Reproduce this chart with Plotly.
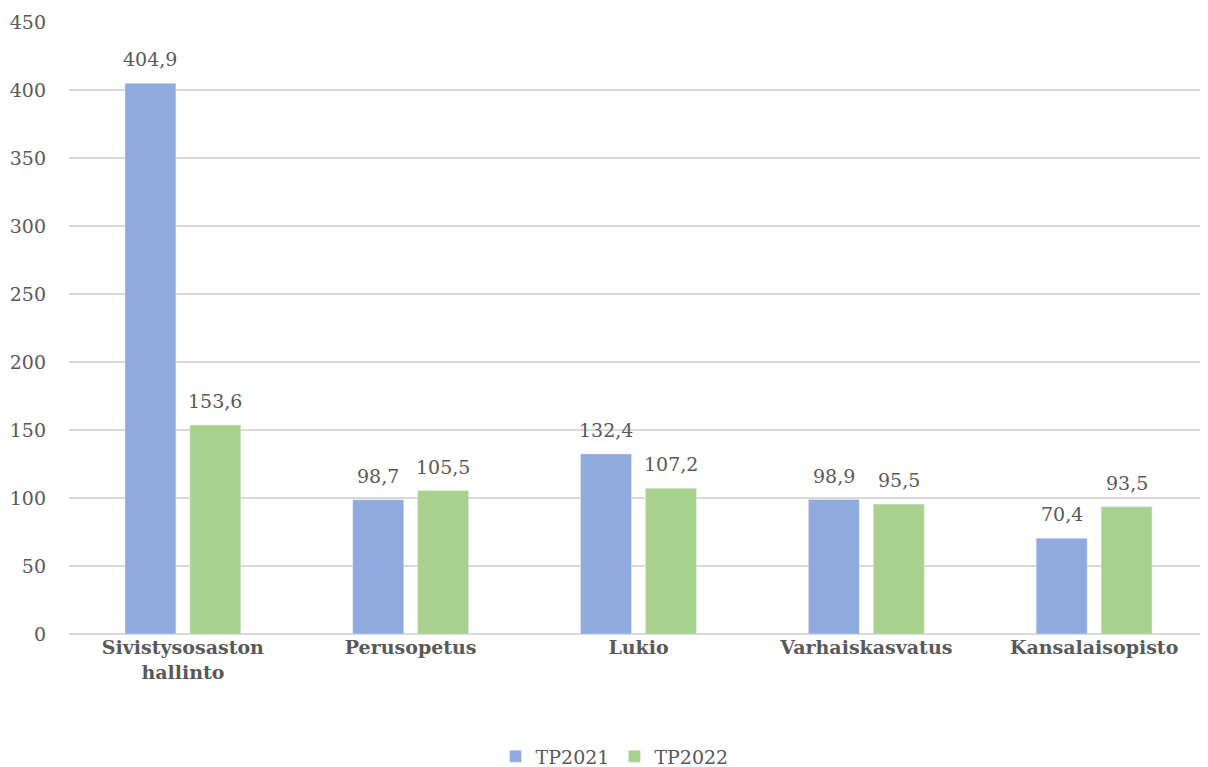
import plotly.graph_objects as go

categories = ["<b>Sivistysosaston<br>hallinto</b>", "<b>Perusopetus</b>", "<b>Lukio</b>",
              "<b>Varhaiskasvatus</b>", "<b>Kansalaisopisto</b>"]
tp2021 = [404.9, 98.7, 132.4, 98.9, 70.4]
tp2022 = [153.6, 105.5, 107.2, 95.5, 93.5]
y_ticks = [0, 50, 100, 150, 200, 250, 300, 350, 400, 450]

FONT = "Palatino Linotype, Book Antiqua, Palatino, DejaVu Serif, serif"
GREY = "#595959"


def fmt(v):
    return f"{v:.1f}".replace(".", ",")


fig = go.Figure()
fig.add_trace(go.Bar(x=categories, y=tp2021, name="TP2021", marker_color="#8FAADC"))
fig.add_trace(go.Bar(x=categories, y=tp2022, name="TP2022", marker_color="#A9D18E"))

# value labels sit a little higher above the bars than plotly's outside text
for vals, shift in ((tp2021, -32.5), (tp2022, 32.5)):
    for cat, v in zip(categories, vals):
        fig.add_annotation(x=cat, y=v, text=fmt(v), showarrow=False, xshift=shift,
                           yanchor="bottom", yshift=11,
                           font=dict(size=19, color=GREY, family=FONT))

# page body has an 8px default margin, so the figure is sized to fit inside it
fig.update_layout(
    width=1200, height=759,
    margin=dict(l=61, r=0, t=14, b=133, autoexpand=False),
    plot_bgcolor="white", paper_bgcolor="white",
    barmode="group", bargap=0.43, bargroupgap=0.215,
    font=dict(family=FONT, size=19, color=GREY),
    legend=dict(orientation="h", x=0.479, xanchor="center", y=-0.2, yanchor="middle",
                font=dict(size=19, color=GREY), itemwidth=30),
)
fig.update_xaxes(tickfont=dict(size=19, color=GREY), showline=False, ticks="",
                 automargin=False)
fig.update_yaxes(range=[0, 450], tickvals=y_ticks, showgrid=True, gridcolor="#D9D9D9",
                 gridwidth=1.5, zeroline=True, zerolinecolor="#D9D9D9", zerolinewidth=1.5,
                 tickfont=dict(size=19, color=GREY), ticklabelstandoff=22,
                 automargin=False)

fig.write_html("out.html")
